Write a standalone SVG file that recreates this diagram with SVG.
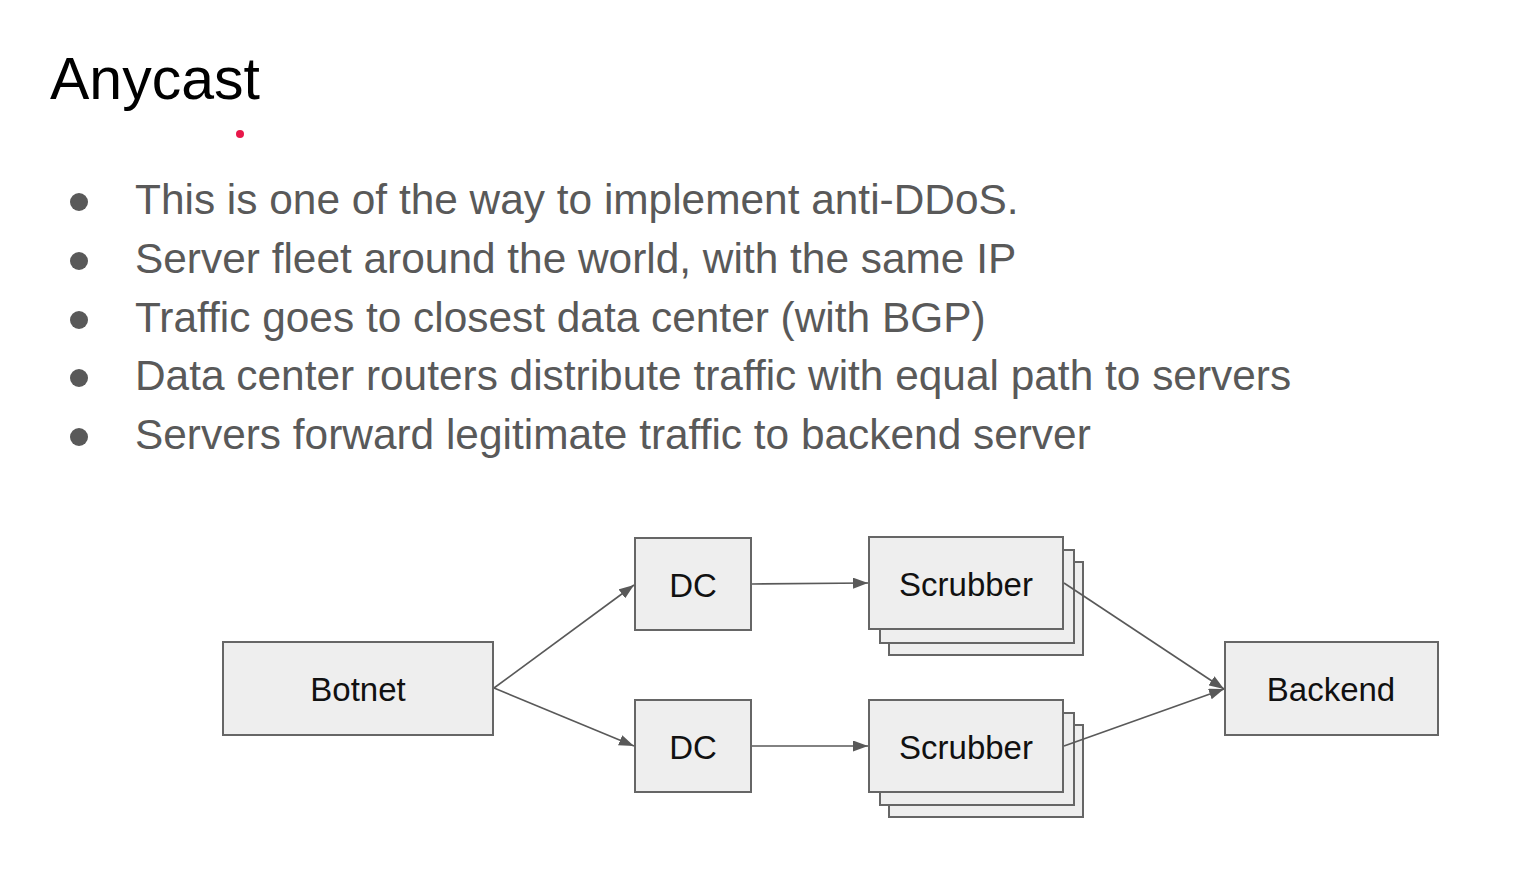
<svg xmlns="http://www.w3.org/2000/svg" width="1526" height="873" viewBox="0 0 1526 873">
<defs>
<style>
.bul{font-family:"Liberation Sans",Arial,sans-serif;font-size:42.4px;fill:#595959}
.box{fill:#eeeeee;stroke:#666666;stroke-width:2}
.lbl{font-family:"Liberation Sans",Arial,sans-serif;font-size:33px;fill:#111111;text-anchor:middle;dominant-baseline:central}
.con{stroke:#595959;stroke-width:1.6;fill:none;marker-end:url(#ah)}
</style>
<marker id="ah" viewBox="0 0 10 10" refX="10" refY="5" markerWidth="15" markerHeight="11" markerUnits="userSpaceOnUse" orient="auto" preserveAspectRatio="none">
<path d="M0,0 L10,5 L0,10 z" fill="#595959"/>
</marker>
</defs>
<rect width="1526" height="873" fill="#ffffff"/>
<text x="50" y="99" font-family="Liberation Sans,Arial,sans-serif" font-size="59" fill="#000000">Anycast</text>
<circle cx="240" cy="134" r="4" fill="#e8174a"/>
<g id="bullets">
<circle cx="79" cy="202" r="9" fill="#595959"/>
<circle cx="79" cy="261" r="9" fill="#595959"/>
<circle cx="79" cy="320" r="9" fill="#595959"/>
<circle cx="79" cy="378" r="9" fill="#595959"/>
<circle cx="79" cy="437" r="9" fill="#595959"/>
<text class="bul" x="135" y="214">This is one of the way to implement anti-DDoS.</text>
<text class="bul" x="135" y="273">Server fleet around the world, with the same IP</text>
<text class="bul" x="135" y="332">Traffic goes to closest data center (with BGP)</text>
<text class="bul" x="135" y="390">Data center routers distribute traffic with equal path to servers</text>
<text class="bul" x="135" y="449">Servers forward legitimate traffic to backend server</text>
</g>
<g id="botnet">
<rect class="box" x="223" y="642" width="270" height="93"/>
<text class="lbl" x="358" y="689">Botnet</text>
</g>
<g id="dc1">
<rect class="box" x="635" y="538" width="116" height="92"/>
<text class="lbl" x="693" y="585">DC</text>
</g>
<g id="dc2">
<rect class="box" x="635" y="700" width="116" height="92"/>
<text class="lbl" x="693" y="747">DC</text>
</g>
<g id="scrubber1">
<rect class="box" x="889" y="562" width="194" height="93"/>
<rect class="box" x="880" y="550" width="194" height="93"/>
<rect class="box" x="869" y="537" width="194" height="92"/>
<text class="lbl" x="966" y="584">Scrubber</text>
</g>
<g id="scrubber2">
<rect class="box" x="889" y="725" width="194" height="92"/>
<rect class="box" x="880" y="713" width="194" height="92"/>
<rect class="box" x="869" y="700" width="194" height="92"/>
<text class="lbl" x="966" y="747">Scrubber</text>
</g>
<g id="backend">
<rect class="box" x="1225" y="642" width="213" height="93"/>
<text class="lbl" x="1331" y="689">Backend</text>
</g>
<g id="connectors">
<line class="con" x1="494" y1="688" x2="634" y2="585"/>
<line class="con" x1="494" y1="688" x2="634" y2="746"/>
<line class="con" x1="752" y1="584" x2="868" y2="583"/>
<line class="con" x1="752" y1="746" x2="868" y2="746"/>
<line class="con" x1="1064" y1="583" x2="1224" y2="689"/>
<line class="con" x1="1064" y1="746" x2="1224" y2="689"/>
</g>
</svg>
